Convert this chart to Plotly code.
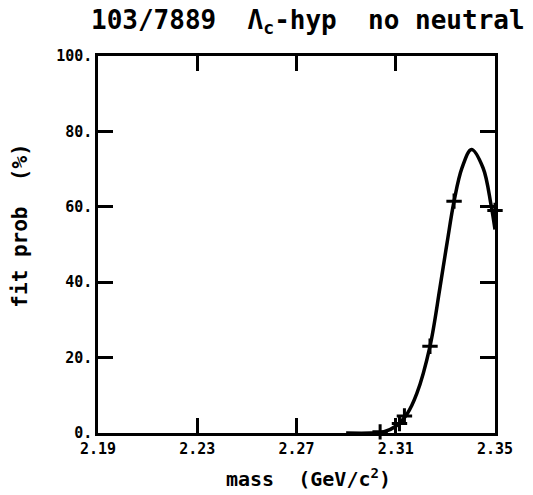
import plotly.graph_objects as go

# curve (mass in GeV/c^2, fit prob in %)
curve_mass = [2.290, 2.300, 2.305, 2.310, 2.3145, 2.3185, 2.3238, 2.3278, 2.3307,
              2.3335, 2.3367, 2.3405, 2.3452, 2.3484, 2.350]
curve_prob = [0.0, 0.0, 0.3, 1.8, 5.0, 10.5, 23.0, 38.5, 50.5,
              61.5, 70.3, 75.2, 70.3, 60.5, 54.0]

# measured points (crosses)
pt_mass = [2.3037, 2.3115, 2.3135, 2.3238, 2.3335, 2.350]
pt_prob = [0.3, 2.5, 4.5, 23.0, 61.5, 59.0]

x_ticks = [2.19, 2.23, 2.27, 2.31, 2.35]
x_ticktext = ["2.19", "2.23", "2.27", "2.31", "2.35"]
y_ticks = [0, 20, 40, 60, 80, 100]
y_ticktext = ["0.", "20.", "40.", "60.", "80.", "100."]

FONT = "DejaVu Sans Mono"
NB = "\u00a0"

fig = go.Figure()
fig.add_trace(go.Scatter(x=curve_mass, y=curve_prob, mode="lines",
                         line=dict(color="black", width=3.5, shape="spline", smoothing=1.0),
                         hoverinfo="skip"))
fig.add_trace(go.Scatter(x=pt_mass, y=pt_prob, mode="markers",
                         marker=dict(symbol="cross-thin", size=11,
                                     line=dict(color="black", width=3)),
                         cliponaxis=False))

axis_common = dict(showgrid=False, zeroline=False, showline=True, linecolor="black",
                   linewidth=2.5, mirror="ticks", ticks="inside", ticklen=15,
                   tickwidth=2.5, tickcolor="black",
                   tickfont=dict(family=FONT, size=15, color="black", weight="bold"))

fig.update_xaxes(range=[2.19, 2.35], tickvals=x_ticks, ticktext=x_ticktext, **axis_common)
fig.update_yaxes(range=[0, 100], tickvals=y_ticks, ticktext=y_ticktext, **axis_common)

fig.update_layout(
    width=533, height=495,
    margin=dict(l=98, r=38, t=56, b=62),
    paper_bgcolor="white", plot_bgcolor="white",
    showlegend=False,
    annotations=[
        dict(text=f"103/7889{NB}{NB}Λ<sub>c</sub>-hyp{NB}{NB}no{NB}neutral",
             xref="paper", yref="paper", x=0.53, y=1.0, yshift=16,
             xanchor="center", yanchor="bottom", showarrow=False,
             font=dict(family=FONT, size=26, color="black", weight="bold")),
        dict(text=f"mass{NB}{NB}(GeV/c<sup>2</sup>)",
             xref="paper", yref="paper", x=0.53, y=0, yshift=-30,
             xanchor="center", yanchor="top", showarrow=False,
             font=dict(family=FONT, size=20, color="black", weight="bold")),
        dict(text=f"fit{NB}prob{NB}{NB}(%)", textangle=-90,
             xref="paper", yref="paper", x=0, xshift=-78, y=0.55,
             xanchor="center", yanchor="middle", showarrow=False,
             font=dict(family=FONT, size=21, color="black", weight="bold")),
    ],
)

fig.write_html("out.html")
